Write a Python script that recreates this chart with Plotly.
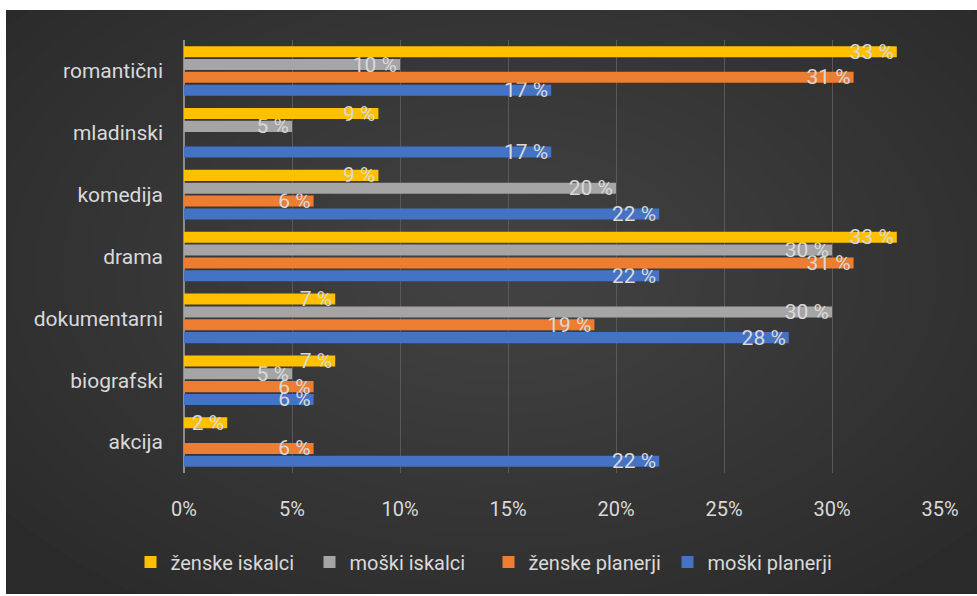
import plotly.graph_objects as go

# Data (bottom category first, as plotly stacks categories upward)
categories = ["akcija", "biografski", "dokumentarni", "drama", "komedija", "mladinski", "romantični"]
zenske_iskalci = [2, 7, 7, 33, 9, 9, 33]
moski_iskalci = [None, 5, 30, 30, 20, 5, 10]
zenske_planerji = [6, 6, 19, 31, 6, None, 31]
moski_planerji = [22, 6, 28, 22, 22, 17, 17]
x_ticks = [0, 5, 10, 15, 20, 25, 30, 35]

TXT = "#d9d9d9"
FONT = "Roboto, Liberation Sans, sans-serif"

W, H = 977, 596
L, R, T, B = 184, 37, 40, 123
PW, PH = W - L - R, H - T - B


def px_x(p):
    return (p - L) / PW


def px_y(p):
    return (H - B - p) / PH


def labels(vals):
    return [f"{v} %" if v is not None else "" for v in vals]


series = [
    ("moški planerji", moski_planerji, "#4472C4"),
    ("ženske planerji", zenske_planerji, "#ED7D31"),
    ("moški iskalci", moski_iskalci, "#A5A5A5"),
    ("ženske iskalci", zenske_iskalci, "#FFC000"),
]

fig = go.Figure()
for name, vals, col in series:
    fig.add_trace(go.Bar(
        name=name, y=categories, x=vals, orientation="h",
        marker=dict(color=col, line=dict(width=0)),
        text=labels(vals), textposition="inside", insidetextanchor="end",
        textfont=dict(color=TXT, size=21, family=FONT),
        cliponaxis=False,
    ))

# dark background panel with a soft radial glow
shapes = [dict(type="rect", xref="paper", yref="paper", layer="below",
               x0=px_x(6), x1=px_x(977), y0=px_y(594), y1=px_y(10),
               fillcolor="#2a2a2a", line=dict(width=0))]
cx, cy = 500, 270
for i in range(22):
    rx = 620 - i * 26
    ry = 400 - i * 17
    shapes.append(dict(type="circle", xref="paper", yref="paper", layer="below",
                       x0=px_x(cx - rx), x1=px_x(cx + rx),
                       y0=px_y(cy + ry), y1=px_y(cy - ry),
                       fillcolor="#5e5e5e", opacity=0.047, line=dict(width=0)))
# white frame to trim the glow to the panel
for x0, x1, y0, y1 in [(-50, 6, -50, 650), (-50, 1050, -50, 10), (-50, 1050, 594, 650)]:
    shapes.append(dict(type="rect", xref="paper", yref="paper", layer="below",
                       x0=px_x(x0), x1=px_x(x1), y0=px_y(y1), y1=px_y(y0),
                       fillcolor="white", line=dict(width=0)))

fig.update_layout(
    width=W, height=H,
    margin=dict(l=L, r=R, t=T, b=B),
    paper_bgcolor="white",
    plot_bgcolor="rgba(0,0,0,0)",
    barmode="group", bargap=0.17, bargroupgap=0.14,
    uniformtext=dict(minsize=21, mode="show"),
    font=dict(family=FONT, color=TXT, size=20),
    showlegend=True,
    legend=dict(orientation="h", traceorder="reversed",
                x=0.5, xanchor="center", xref="container",
                y=(H - 562) / H, yanchor="middle", yref="container",
                font=dict(size=20, color=TXT), bgcolor="rgba(0,0,0,0)",
                itemwidth=30, entrywidth=134, entrywidthmode="pixels"),
    shapes=shapes,
)
fig.update_xaxes(range=[0, 35], tickvals=x_ticks,
                 ticktext=[f"{t}%" for t in x_ticks],
                 showgrid=True, gridcolor="#595959", gridwidth=1,
                 zeroline=True, zerolinecolor="#8c8c8c", zerolinewidth=2,
                 ticklabelstandoff=22, tickfont=dict(size=20, color=TXT),
                 fixedrange=True)
fig.update_yaxes(showgrid=False, ticklabelstandoff=20,
                 tickfont=dict(size=21, color=TXT), fixedrange=True)

fig.write_html("out.html", config={"displayModeBar": False},
               post_script="document.body.style.margin='0px';")
